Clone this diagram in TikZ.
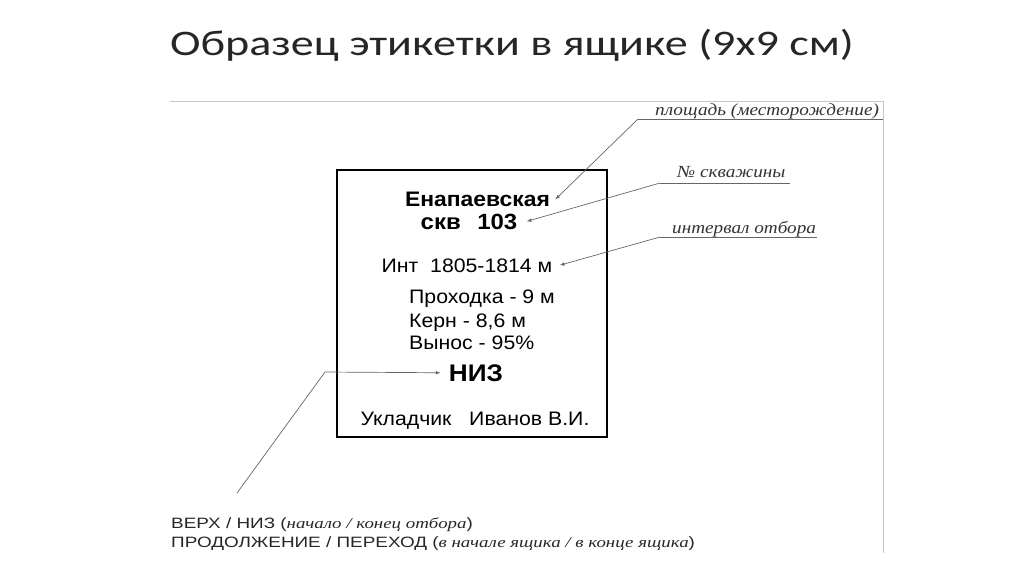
\documentclass[tikz,border=0pt]{standalone}
\usepackage{fontspec}
\setmainfont{Liberation Sans}
\newfontfamily\labelfont[FakeStretch=1.09]{Liberation Sans}
\newfontfamily\notefont[FakeStretch=1.13]{Liberation Serif}
\newfontfamily\legendsans[FakeStretch=1.26]{Liberation Sans}
\newfontfamily\legendserif[FakeStretch=1.26]{Liberation Serif}
\newfontfamily\slidefont[FakeStretch=1.28]{Carlito}
\usetikzlibrary{arrows.meta}

\begin{document}
\begin{tikzpicture}[x=1pt, y=-1pt,
        txt/.style={inner sep=0pt, anchor=base},
        note/.style={inner sep=0pt, anchor=base west, text=black!80, font=\notefont\itshape\fontsize{17}{20}\selectfont},
        legend/.style={inner sep=0pt, anchor=base west, text=black!85, font=\legendsans\fontsize{15}{18}\selectfont},
        leader/.style={draw=black!60, line width=0.7pt},
        pointer/.style={leader, -{Latex[length=5pt, width=3.5pt]}}]
            \useasboundingbox (0,0) rectangle (1024,574);

            %title
            \node[inner sep=0pt, anchor=base, text=black!85, font=\slidefont\fontsize{36}{42}\selectfont] (title) at (512,55) {Образец этикетки в ящике (9х9 см)};

            %frame
            \draw[black!22, line width=0.8pt] (170,101) -- (883,101) -- (883,553);

            %label
            \node[draw, line width=2.4pt, inner sep=0pt, minimum width=270, minimum height=267] (box) at (472,303.5) {};
            \node[txt, font=\labelfont\bfseries\fontsize{21}{24}\selectfont] (field) at (477.5,206.7) {Енапаевская};
            \node[txt, font=\labelfont\bfseries\fontsize{22}{25}\selectfont] (well) at (469,229) {скв\hspace{0.75em}103};
            \node[txt, font=\labelfont\fontsize{19.5}{24}\selectfont] (interval) at (467,272) {Инт\ \ 1805-1814 м};
            \node[txt, anchor=base west, font=\labelfont\fontsize{19.5}{24}\selectfont] (drill) at (409,303) {Проходка - 9 м};
            \node[txt, anchor=base west, font=\labelfont\fontsize{19.5}{24}\selectfont] (core) at (409,327) {Керн - 8,6 м};
            \node[txt, anchor=base west, font=\labelfont\fontsize{19.5}{24}\selectfont] (yield) at (409,349) {Вынос - 95\%};
            \node[txt, font=\labelfont\bfseries\fontsize{24}{28}\selectfont] (bottom) at (476,381) {НИЗ};
            \node[txt, font=\labelfont\fontsize{19.5}{24}\selectfont] (packer) at (475,425) {Укладчик\ \ \ Иванов В.И.};

            %notes
            \node[note] (fieldnote) at (655,115) {площадь (месторождение)};
            \node[note] (wellnote) at (677,177) {№ скважины};
            \node[note] (intnote) at (672,233) {интервал отбора};
            \node[legend] (topnote) at (171,528.7) {ВЕРХ / НИЗ ({\legendserif\itshape начало / конец отбора})};
            \node[legend] (contnote) at (171,547.3) {ПРОДОЛЖЕНИЕ / ПЕРЕХОД ({\legendserif\itshape в начале ящика / в конце ящика})};

            \coordinate (fieldA) at (638,119);
            \coordinate (fieldB) at (883,119);
            \coordinate (wellA) at (660,183);
            \coordinate (wellB) at (790,183);
            \coordinate (intA) at (660,237);
            \coordinate (intB) at (817,237);
            \coordinate (nizA) at (237,493);
            \coordinate (nizB) at (325,372);

            %leaders
            \draw[leader] (fieldA) -- (fieldB);
            \draw[leader] (wellA) -- (wellB);
            \draw[leader] (intA) -- (intB);
            \draw[pointer] (fieldA) -- ([xshift=5pt]field.east);
            \draw[pointer] (wellA) -- ([xshift=9pt]well.east);
            \draw[pointer] (intA) -- ([xshift=7pt]interval.east);
            \draw[pointer] (nizA) -- (nizB) -- ([xshift=-8pt]bottom.west);
        \end{tikzpicture}
\end{document}
